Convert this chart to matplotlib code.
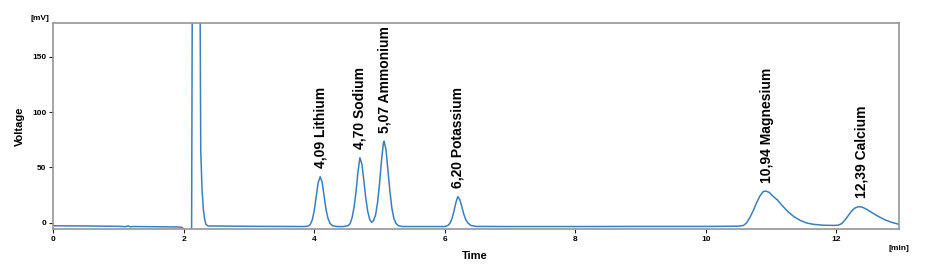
import matplotlib.pyplot as plt

# chromatogram trace: time [min], voltage [mV]
time = [0.00, 0.50, 1.00, 1.10, 1.15, 1.18, 1.22, 1.60, 1.90, 1.97, 2.00, 2.03, 2.10,
        2.12, 2.13, 2.25, 2.26, 2.28, 2.30, 2.32, 2.34, 2.37, 2.45, 3.00, 3.50,
        3.85, 3.91, 3.94, 3.97, 4.00, 4.03, 4.06, 4.09, 4.12, 4.15, 4.18, 4.21, 4.24, 4.28, 4.35,
        4.45, 4.52, 4.55, 4.58, 4.61, 4.64, 4.67, 4.70, 4.73, 4.76, 4.79, 4.82, 4.85, 4.88,
        4.91, 4.94, 4.97, 5.00, 5.03, 5.06, 5.07, 5.10, 5.13, 5.16, 5.19, 5.22, 5.25, 5.29, 5.35,
        5.60, 6.00, 6.05, 6.08, 6.11, 6.14, 6.17, 6.20, 6.23, 6.26, 6.29, 6.32, 6.35, 6.40, 6.48,
        7.00, 8.00, 9.00, 10.00, 10.50, 10.58, 10.63, 10.68, 10.73, 10.78, 10.83, 10.88, 10.92,
        10.97, 11.03, 11.10, 11.18, 11.26, 11.35, 11.45, 11.55, 11.65, 11.80, 11.95, 12.03,
        12.08, 12.13, 12.18, 12.23, 12.28, 12.34, 12.40, 12.47, 12.55, 12.65, 12.75, 12.85,
        12.95, 13.00]
voltage = [-2.8, -3.0, -3.3, -3.6, -3.0, -3.8, -3.5, -3.7, -3.9, -4.2, -6.0, -8.0, -8.0,
           -8.0, 200.0, 200.0, 65.0, 30.0, 12.0, 3.0, -1.5, -3.0, -3.0, -3.3, -3.4,
           -3.5, -3.0, -1.5, 2.6, 10.9, 23.8, 36.2, 41.5, 37.0, 24.5, 12.0, 4.0, -0.5, -2.8, -3.5,
           -3.5, -2.6, -0.8, 4.5, 14.0, 28.0, 46.0, 58.7, 53.0, 38.0, 22.0, 10.0, 3.0, 0.2,
           2.0, 7.0, 18.0, 35.0, 56.0, 72.0, 73.8, 66.0, 47.0, 28.0, 13.0, 4.0, -0.5, -2.8, -3.5,
           -3.5, -3.5, -2.5, -0.5, 3.5, 10.0, 18.0, 23.5, 21.0, 15.0, 8.0, 3.0, 0.0, -2.5, -3.4,
           -3.5, -3.5, -3.4, -3.4, -3.2, -2.5, 0.0, 5.0, 11.0, 18.0, 24.0, 28.0, 28.6,
           27.5, 24.0, 20.5, 15.0, 10.0, 5.5, 2.0, -0.3, -1.5, -2.3, -2.5, -2.3,
           -1.0, 2.0, 6.0, 10.0, 13.0, 14.5, 14.0, 12.0, 9.0, 5.5, 2.5, 0.3,
           -1.3, -1.8]

# peak labels
peak_times = [4.09, 4.70, 5.07, 6.20, 10.94, 12.39]
peak_heights = [41.5, 58.7, 73.8, 23.5, 28.6, 14.5]
peak_names = ['Lithium', 'Sodium', 'Ammonium', 'Potassium', 'Magnesium', 'Calcium']

xticks = [0, 2, 4, 6, 8, 10, 12]
yticks = [0, 50, 100, 150]

spine_col = '#969696'
line_col = '#3a7fc0'

plt.rcParams['font.family'] = ['Liberation Sans', 'DejaVu Sans']

fig = plt.figure(figsize=(9.35, 2.72), dpi=100)
ax = fig.add_axes([0.057, 0.157, 0.905, 0.760])

ax.plot(time, voltage, color=line_col, lw=1.1)

for t, h, name in zip(peak_times, peak_heights, peak_names):
    lab = ('%.2f' % t).replace('.', ',') + ' ' + name
    ax.annotate(lab, xy=(t, h), xytext=(0, 6), textcoords='offset points',
                rotation=90, ha='center', va='bottom', fontsize=10,
                fontweight='bold', color='black')

ax.set_xlim(0, 12.97)
ax.set_ylim(-6, 181)
ax.set_xticks(xticks)
ax.set_yticks(yticks)
ax.tick_params(axis='both', labelsize=6, length=3, width=0.8, color='#222222', pad=2)
for lbl in ax.get_xticklabels() + ax.get_yticklabels():
    lbl.set_fontweight('bold')

for s in ax.spines.values():
    s.set_color(spine_col)
    s.set_linewidth(1.2)

ax.set_ylabel('Voltage', fontsize=8, fontweight='bold')
ax.yaxis.set_label_coords(-0.034, 0.5)
fig.text(475 / 935, 1 - 256 / 272, 'Time', fontsize=8, fontweight='bold',
         ha='center', va='center')
fig.text(40 / 935, 1 - 19 / 272, '[mV]', fontsize=6, fontweight='bold',
         ha='center', va='center')
fig.text(899 / 935, 1 - 248 / 272, '[min]', fontsize=6, fontweight='bold',
         ha='center', va='center')

fig.savefig('out.png', dpi=100)
